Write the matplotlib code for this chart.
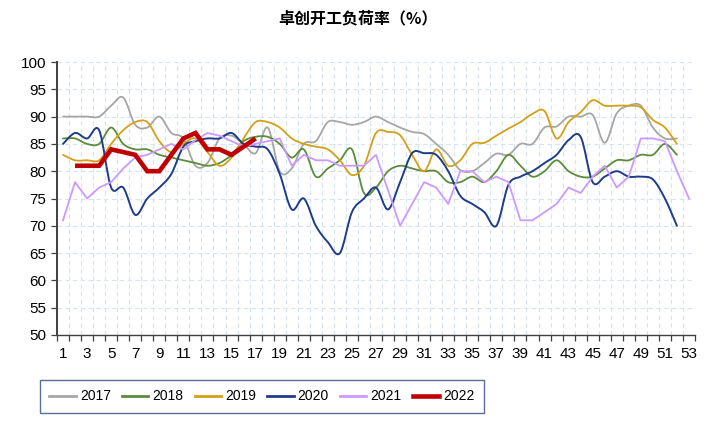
import matplotlib
matplotlib.use("Agg")
import matplotlib.pyplot as plt
import numpy as np
from matplotlib.path import Path
from matplotlib.patches import PathPatch
from matplotlib.lines import Line2D
from matplotlib.ticker import MultipleLocator, FixedLocator
from matplotlib import font_manager

_names = {f.name for f in font_manager.fontManager.ttflist}
_fams = [f for f in ["Liberation Sans Narrow", "Liberation Sans", "DejaVu Sans"] if f in _names]
plt.rcParams['font.family'] = _fams

title = "卓创开工负荷率（%）"
years = ["2017", "2018", "2019", "2020", "2021", "2022"]

y2017 = [90, 90, 90, 90, 92, 93.5, 88.5, 88, 90, 87, 86, 81, 81.5, 86, 86.5, 85, 83.3, 88,
         80, 80.5, 85, 85.5, 89, 89, 88.5, 89, 90, 89, 88, 87.2, 86.8, 85, 83, 80.2, 80, 81.5,
         83.2, 83, 85, 85, 88, 88.2, 90, 90, 90.3, 85.2, 90.6, 92, 92, 88, 86, 86]
y2018 = [86, 86, 85, 85, 88, 85, 84, 84, 83, 82.5, 82, 81.5, 81, 81.5, 83, 85.5, 86.3, 86.3,
         85, 82.5, 84, 79, 80.5, 82, 84, 76, 77, 80, 81, 80.5, 80, 80, 78, 78, 79, 78,
         80, 83, 81, 79, 80, 82, 80, 79, 79, 80.5, 82, 82, 83, 83, 85, 83]
y2019 = [83, 82, 82, 82, 85, 87.5, 89, 89, 85.5, 83.5, 85, 86, 83.5, 81, 82.5, 86, 89, 89,
         88, 86, 85, 84.5, 84, 82, 79.3, 81, 87, 87.2, 86.6, 83, 80, 84, 81, 82, 85, 85.2,
         86.5, 87.8, 89, 90.5, 91, 86, 89, 90.8, 93, 92, 92, 92, 91.7, 89.4, 88, 85]
y2020 = [85, 87, 86, 87.5, 77, 77, 72, 75, 77, 79.5, 84.5, 85.5, 86, 86, 87, 85, 84.5, 84,
         79.5, 73, 75, 70, 67, 65, 72.5, 75, 77, 73, 78, 83.3, 83.3, 83, 80, 75.5, 74, 72.5,
         70, 77.5, 79, 80, 81.5, 83, 85.7, 86.3, 78, 79, 80, 79, 79, 78.5, 75, 70]
y2021 = [71, 78, 75, 77, 78, 80.5, 82.5, 83, 84, 85, 84, 85.7, 87, 86.5, 85.5, 84.5, 85, 85.5,
         86, 81, 83, 82, 82, 81, 81, 81, 83, 76.5, 70, 74, 78, 77, 74, 80, 80, 78,
         79, 78, 71, 71, 72.5, 74, 77, 76, 79, 81, 77, 79, 86, 86, 85.5, 80, 75]
weeks2022 = list(range(2, 18))
y2022 = [81, 81, 81, 84, 83.5, 83, 80, 80, 83, 86, 87, 84, 84, 83, 84.5, 86]

colors = ["#A6A6A6", "#5B8C3A", "#D4A017", "#1F3C88", "#CC99FF", "#C00000"]
widths = [1.3, 1.3, 1.3, 1.4, 1.3, 3.3]

W, H = 715, 422
fig = plt.figure(figsize=(W / 100, H / 100), dpi=100)
ax = fig.add_axes([57 / W, 1 - 335 / H, (695 - 57) / W, (335 - 62) / H])


def smooth_patch(xs, ys, color, lw, z):
    P = np.column_stack([np.asarray(xs, float), np.asarray(ys, float)])
    n = len(P)
    verts = [tuple(P[0])]
    codes = [Path.MOVETO]
    for i in range(n - 1):
        p0 = P[i - 1] if i > 0 else P[i]
        p3 = P[i + 2] if i + 2 < n else P[i + 1]
        c1 = P[i] + (P[i + 1] - p0) / 6.0
        c2 = P[i + 1] - (p3 - P[i]) / 6.0
        verts += [tuple(c1), tuple(c2), tuple(P[i + 1])]
        codes += [Path.CURVE4] * 3
    patch = PathPatch(Path(verts, codes), facecolor="none", edgecolor=color,
                      lw=lw, zorder=z, capstyle="round", joinstyle="round")
    ax.add_patch(patch)


series = [y2017, y2018, y2019, y2020]
for i, ys in enumerate(series):
    xs = list(range(1, len(ys) + 1))
    smooth_patch(xs, ys, colors[i], widths[i], 3 + i)

ax.plot(range(1, len(y2021) + 1), y2021, color=colors[4], lw=widths[4], zorder=7)
ax.plot(weeks2022, y2022, color=colors[5], lw=widths[5], zorder=8,
        solid_joinstyle="miter", solid_capstyle="butt")

ax.set_xlim(0.5, 53.5)
ax.set_ylim(50, 100)
ax.yaxis.set_major_locator(MultipleLocator(5))
ax.xaxis.set_major_locator(FixedLocator(list(range(1, 54, 2))))
ax.xaxis.set_minor_locator(FixedLocator(list(np.arange(0.5, 54, 1.0))))
ax.tick_params(axis="x", which="major", length=0, pad=9, labelsize=11, colors="black")
ax.tick_params(axis="x", which="minor", length=4, width=0.9, color="#404040", direction="out")
ax.tick_params(axis="y", which="major", length=4, width=0.9, color="#404040", pad=4,
               labelsize=11, labelcolor="black")

ax.grid(True, axis="y", which="major", color="#D6E4F2", linestyle=(0, (4, 3)), lw=0.8, zorder=0)
ax.grid(True, axis="x", which="minor", color="#D6E4F2", linestyle=(0, (4, 3)), lw=0.8, zorder=0)
ax.set_axisbelow(True)

for s in ["top", "right"]:
    ax.spines[s].set_visible(False)
ax.spines["left"].set_color("#404040")
ax.spines["left"].set_linewidth(1.4)
ax.spines["bottom"].set_color("#404040")
ax.spines["bottom"].set_linewidth(1.0)

fig.text(0.5, 1 - 18 / H, title, ha="center", va="center", fontsize=11.5, fontweight="bold",
         family=["Noto Sans CJK SC", "DejaVu Sans"])

handles = [Line2D([], [], color=c, lw=(2.0 if i < 5 else 3.3)) for i, c in enumerate(colors)]
leg = fig.legend(handles, years, loc="center", bbox_to_anchor=(262 / W, 1 - 396.5 / H),
                 ncol=6, frameon=True, fancybox=False, edgecolor="#2F4A80",
                 fontsize=10, handlelength=1.9, handletextpad=0.3, columnspacing=0.8,
                 borderpad=0.65)
leg.get_frame().set_linewidth(1.0)

fig.savefig("out.png", dpi=100)
